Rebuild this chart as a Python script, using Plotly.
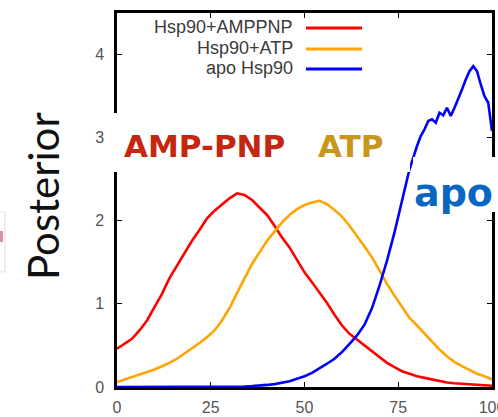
import plotly.graph_objects as go

# Posterior distributions over the closed-state population (%)
x_grid = list(range(0, 101, 2))

amppnp = [0.46, 0.52, 0.58, 0.68, 0.80, 0.96, 1.12, 1.31, 1.46, 1.62,
          1.76, 1.89, 2.03, 2.12, 2.20, 2.27, 2.33, 2.31, 2.25, 2.16,
          2.07, 1.94, 1.80, 1.68, 1.53, 1.38, 1.26, 1.14, 1.01, 0.87,
          0.74, 0.64, 0.57, 0.50, 0.42, 0.35, 0.29, 0.24, 0.19, 0.16,
          0.13, 0.11, 0.09, 0.07, 0.055, 0.045, 0.04, 0.03, 0.025, 0.02,
          0.015]

atp = [0.06, 0.09, 0.12, 0.15, 0.18, 0.21, 0.25, 0.29, 0.34, 0.40,
       0.46, 0.53, 0.60, 0.68, 0.80, 0.95, 1.13, 1.30, 1.48, 1.62,
       1.76, 1.87, 1.98, 2.07, 2.14, 2.19, 2.22, 2.24, 2.20, 2.13,
       2.05, 1.94, 1.82, 1.69, 1.56, 1.40, 1.24, 1.10, 0.96, 0.83,
       0.74, 0.64, 0.54, 0.45, 0.37, 0.30, 0.25, 0.20, 0.16, 0.13,
       0.09]

apo_x = [0, 10, 20, 30, 34, 36, 38, 40, 42, 44, 46, 48, 50, 52, 54, 56,
         58, 60, 62, 64, 66, 68, 70, 72, 74, 76, 78, 80, 81, 82, 83, 84,
         85, 86, 87, 88, 89, 90, 91, 92, 93, 94, 95, 96, 97, 98, 99, 100]
apo = [0.0, 0.0, 0.0, 0.003, 0.005, 0.01, 0.015, 0.025, 0.035, 0.05,
       0.07, 0.10, 0.13, 0.17, 0.22, 0.28, 0.34, 0.42, 0.52, 0.62,
       0.75, 0.95, 1.22, 1.52, 1.86, 2.25, 2.62, 2.90, 3.02, 3.10,
       3.20, 3.22, 3.18, 3.30, 3.27, 3.36, 3.26, 3.36, 3.46, 3.58,
       3.70, 3.80, 3.86, 3.80, 3.64, 3.50, 3.42, 3.08]

series_names = ["Hsp90+AMPPNP", "Hsp90+ATP", "apo Hsp90"]
series_colors = ["#ff0000", "#ffa500", "#0000ff"]

x_ticks = [0, 25, 50, 75, 100]
y_ticks = [0, 1, 2, 3, 4]

W, H = 498, 417
L, R, T, B = 117, 6, 13, 30
PW, PH = W - L - R, H - T - B


def px(X):
    return (X - L) / PW


def py(Y):
    return (H - B - Y) / PH


fig = go.Figure()
for xs, ys, name, color in [(x_grid, amppnp, series_names[0], series_colors[0]),
                            (x_grid, atp, series_names[1], series_colors[1]),
                            (apo_x, apo, series_names[2], series_colors[2])]:
    fig.add_trace(go.Scatter(x=xs, y=ys, mode="lines", name=name,
                             line=dict(color=color, width=2.6),
                             showlegend=False))

axis_common = dict(showgrid=False, zeroline=False, showline=True,
                   linecolor="black", linewidth=2.5, mirror="ticks",
                   ticks="inside", ticklen=5, tickwidth=1.2, tickcolor="black",
                   ticklabeloverflow="allow", automargin=False,
                   tickfont=dict(family="Liberation Sans", size=16, color="#555555"))

fig.update_xaxes(range=[0, 100], tickvals=x_ticks, ticklabelstandoff=4,
                 **axis_common)
fig.update_yaxes(range=[0, 4.5], tickvals=y_ticks, ticklabelstandoff=7,
                 **axis_common)

shapes = []
annotations = []

# key: right-aligned names followed by line samples
key_rows_Y = [27, 48, 68]
for name, color, Y in zip(series_names, series_colors, key_rows_Y):
    annotations.append(dict(xref="paper", yref="paper", x=px(295), y=py(Y),
                            text=name, showarrow=False, xanchor="right",
                            yanchor="middle",
                            font=dict(family="Liberation Sans", size=18,
                                      color="#3a3a3a")))
    shapes.append(dict(type="line", xref="paper", yref="paper",
                       x0=px(306), x1=px(362), y0=py(Y + 1), y1=py(Y + 1),
                       line=dict(color=color, width=3)))

# white label panels
shapes.append(dict(type="rect", xref="paper", yref="paper", layer="above",
                   x0=px(112), x1=px(410), y0=py(172), y1=py(113),
                   fillcolor="white", line=dict(width=0)))
shapes.append(dict(type="rect", xref="paper", yref="paper", layer="above",
                   x0=px(413), x1=px(505), y0=py(212), y1=py(157),
                   fillcolor="white", line=dict(width=0)))

# partial emblem at the left edge
shapes.append(dict(type="rect", xref="paper", yref="paper", layer="above",
                   x0=px(-12), x1=px(5), y0=py(272), y1=py(212),
                   fillcolor="rgba(0,0,0,0)", line=dict(color="#f0dde2", width=1.2)))
shapes.append(dict(type="rect", xref="paper", yref="paper", layer="above",
                   x0=px(-6), x1=px(3), y0=py(242), y1=py(231),
                   fillcolor="#b05068", line=dict(width=0), opacity=0.6))

label_font = "DejaVu Sans"
annotations += [
    dict(xref="paper", yref="paper", x=px(204), y=py(146), text="<b>AMP-PNP</b>",
         showarrow=False, xanchor="center", yanchor="middle",
         font=dict(family=label_font, size=31, color="#c4260f")),
    dict(xref="paper", yref="paper", x=px(350), y=py(146), text="<b>ATP</b>",
         showarrow=False, xanchor="center", yanchor="middle",
         font=dict(family=label_font, size=31, color="#c8961c")),
    dict(xref="paper", yref="paper", x=px(412), y=py(193), text="<b>apo</b>",
         showarrow=False, xanchor="left", yanchor="middle",
         font=dict(family=label_font, size=38, color="#0b66c2")),
    dict(xref="paper", yref="paper", x=px(43), y=py(196), text="Posterior",
         showarrow=False, xanchor="center", yanchor="middle", textangle=-90,
         font=dict(family="Lato", size=42, color="#111111")),
]

fig.update_layout(width=W, height=H,
                  margin=dict(l=L, r=R, t=T, b=B, pad=0, autoexpand=False),
                  paper_bgcolor="white", plot_bgcolor="white",
                  shapes=shapes, annotations=annotations)

fig.write_html("out.html")
